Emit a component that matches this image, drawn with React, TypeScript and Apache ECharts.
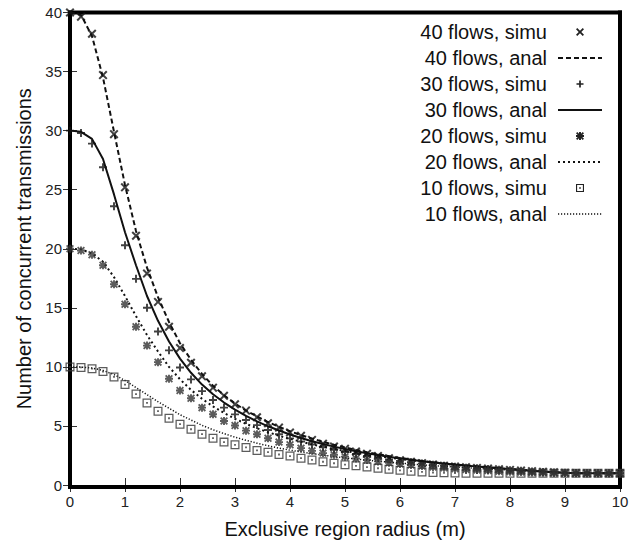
import React, { useEffect, useRef } from "react";
import * as echarts from "echarts";

const radius = [0, 0.2, 0.4, 0.6, 0.8, 1, 1.2, 1.4, 1.6, 1.8, 2, 2.2, 2.4, 2.6, 2.8, 3, 3.2, 3.4, 3.6, 3.8, 4, 4.2, 4.4, 4.6, 4.8, 5, 5.2, 5.4, 5.6, 5.8, 6, 6.2, 6.4, 6.6, 6.8, 7, 7.2, 7.4, 7.6, 7.8, 8, 8.2, 8.4, 8.6, 8.8, 9, 9.2, 9.4, 9.6, 9.8, 10];

const sim40 = [40, 39.65, 38.2, 34.7, 29.7, 25.2, 21.1, 17.9, 15.5, 13.4, 11.6, 10.35, 9.2, 8.24, 7.56, 6.83, 6.3, 5.73, 5.23, 4.86, 4.44, 4.16, 3.82, 3.5, 3.26, 3.06, 2.84, 2.64, 2.45, 2.27, 2.1, 1.97, 1.85, 1.74, 1.64, 1.57, 1.5, 1.44, 1.39, 1.33, 1.28, 1.22, 1.17, 1.12, 1.07, 1.03, 1.01, 1, 1, 1, 1];
const ana40 = [40, 39.8, 38.0, 34.5, 29.9, 25.4, 21.5, 18.4, 15.9, 13.8, 12.0, 10.6, 9.4, 8.4, 7.6, 6.9, 6.3, 5.8, 5.33, 4.92, 4.55, 4.22, 3.93, 3.66, 3.41, 3.18, 2.97, 2.78, 2.6, 2.44, 2.29, 2.16, 2.04, 1.93, 1.83, 1.74, 1.65, 1.57, 1.5, 1.43, 1.36, 1.29, 1.22, 1.15, 1.08, 1.03, 1, 1, 1, 1, 1];
const sim30 = [30, 29.8, 28.9, 26.9, 23.6, 20.3, 17.45, 15.0, 13.0, 11.4, 9.95, 8.94, 7.95, 7.2, 6.55, 5.98, 5.5, 5.07, 4.66, 4.29, 3.95, 3.68, 3.43, 3.2, 2.99, 2.8, 2.62, 2.46, 2.31, 2.17, 2.04, 1.92, 1.81, 1.71, 1.62, 1.54, 1.47, 1.41, 1.35, 1.3, 1.25, 1.2, 1.15, 1.11, 1.06, 1.03, 1.01, 1, 1, 1, 1];
const ana30 = [30, 29.9, 29.3, 27.6, 24.6, 21.4, 18.6, 16.0, 13.9, 12.15, 10.7, 9.5, 8.5, 7.68, 6.98, 6.38, 5.85, 5.38, 4.97, 4.61, 4.28, 3.98, 3.71, 3.47, 3.25, 3.05, 2.86, 2.69, 2.53, 2.39, 2.25, 2.13, 2.02, 1.91, 1.81, 1.72, 1.64, 1.56, 1.49, 1.42, 1.35, 1.28, 1.21, 1.14, 1.08, 1.03, 1, 1, 1, 1, 1];
const sim20 = [20, 19.85, 19.5, 18.6, 17.0, 15.3, 13.4, 11.8, 10.4, 9.0, 8.0, 7.34, 6.55, 5.99, 5.42, 5.03, 4.6, 4.3, 3.96, 3.63, 3.4, 3.12, 2.89, 2.7, 2.56, 2.4, 2.25, 2.12, 2.0, 1.88, 1.78, 1.69, 1.6, 1.52, 1.45, 1.38, 1.32, 1.27, 1.22, 1.17, 1.13, 1.09, 1.06, 1.04, 1.02, 1.01, 1, 1, 1, 1, 1];
const ana20 = [20, 19.95, 19.6, 18.9, 17.6, 16.0, 14.3, 12.7, 11.3, 10.0, 8.95, 8.05, 7.3, 6.65, 6.1, 5.6, 5.18, 4.8, 4.47, 4.17, 3.9, 3.66, 3.44, 3.24, 3.05, 2.88, 2.72, 2.57, 2.44, 2.31, 2.19, 2.08, 1.98, 1.88, 1.79, 1.7, 1.62, 1.54, 1.47, 1.4, 1.33, 1.27, 1.2, 1.14, 1.08, 1.03, 1, 1, 1, 1, 1];
const sim10 = [10, 9.95, 9.85, 9.6, 9.15, 8.5, 7.7, 6.95, 6.25, 5.65, 5.15, 4.72, 4.3, 3.96, 3.63, 3.4, 3.18, 2.93, 2.78, 2.58, 2.45, 2.27, 2.12, 1.97, 1.84, 1.72, 1.62, 1.52, 1.42, 1.33, 1.24, 1.17, 1.11, 1.06, 1.03, 1.01, 1, 1, 1, 1, 1, 1, 1, 1, 1, 1, 1, 1, 1, 1, 1];
const ana10 = [10, 9.98, 9.9, 9.7, 9.35, 8.85, 8.25, 7.65, 7.05, 6.5, 5.95, 5.5, 5.05, 4.68, 4.35, 4.05, 3.78, 3.54, 3.32, 3.12, 2.95, 2.8, 2.66, 2.53, 2.41, 2.3, 2.2, 2.1, 2.01, 1.93, 1.85, 1.78, 1.71, 1.64, 1.58, 1.52, 1.46, 1.41, 1.36, 1.31, 1.26, 1.21, 1.17, 1.12, 1.07, 1.03, 1, 1, 1, 1, 1];

const seriesNames = [
  "40 flows, simu", "40 flows, anal",
  "30 flows, simu", "30 flows, anal",
  "20 flows, simu", "20 flows, anal",
  "10 flows, simu", "10 flows, anal",
];
const xTicks = [0, 1, 2, 3, 4, 5, 6, 7, 8, 9, 10];
const yTicks = [0, 5, 10, 15, 20, 25, 30, 35, 40];

const P_X = "M0,1.6 L1.6,0 L5,3.4 L8.4,0 L10,1.6 L6.6,5 L10,8.4 L8.4,10 L5,6.6 L1.6,10 L0,8.4 L3.4,5 Z";
const P_PLUS = "M3.8,0 L6.2,0 L6.2,3.8 L10,3.8 L10,6.2 L6.2,6.2 L6.2,10 L3.8,10 L3.8,6.2 L0,6.2 L0,3.8 L3.8,3.8 Z";
const P_STAR = P_X + " " + P_PLUS;
const P_BOX = "M0,0 L10,0 L10,10 L0,10 Z M1.4,1.4 L1.4,8.6 L8.6,8.6 L8.6,1.4 Z M4,4 L6,4 L6,6 L4,6 Z";

const FONT = "'Liberation Sans', Arial, Helvetica, sans-serif";
const INK = "#111";

const GRID = { left: 70, right: 24, top: 12.5, bottom: 57 };
const W = 644;
const H = 544;

let registered = false;
function registerShapes() {
  if (registered) return;
  registered = true;
  echarts.graphic.registerShape("mkx", echarts.graphic.extendPath(P_X, {}));
  echarts.graphic.registerShape("mkplus", echarts.graphic.extendPath(P_PLUS, {}));
  echarts.graphic.registerShape("mkstar", echarts.graphic.extendPath(P_STAR, {}));
  echarts.graphic.registerShape("mkbox", echarts.graphic.extendPath(P_BOX, {}));
}

const pairs = (ys: number[]) => radius.map((x, i) => [x, ys[i]]);

export default function App() {
  const ref = useRef<HTMLDivElement>(null);
  useEffect(() => {
    document.body.style.margin = "0";
    registerShapes();
    const chart = echarts.init(ref.current!, null, { renderer: "svg" });

    const simSeries = (name: string, ys: number[], path: string, size: number, color: string) => ({
      name,
      type: "scatter",
      data: pairs(ys),
      symbol: "path://" + path,
      symbolSize: size,
      itemStyle: { color },
      z: 4,
      clip: false,
    });
    const anaSeries = (name: string, ys: number[], width: number, type: any) => ({
      name,
      type: "line",
      data: pairs(ys),
      symbol: "none",
      smooth: false,
      lineStyle: { color: INK, width, type },
      z: 3,
    });

    const legendRows = seriesNames.map((n, i) => 32 + 26 * i);
    const lgText = seriesNames.map((n, i) => ({
      type: "text",
      x: 547,
      y: legendRows[i],
      style: { text: n, fill: INK, font: `20px ${FONT}`, textAlign: "right", textVerticalAlign: "middle" },
    }));
    const lineSample = (y: number, width: number, dash: any) => ({
      type: "line",
      shape: { x1: 558, y1: y, x2: 602, y2: y },
      style: { stroke: INK, lineWidth: width, lineDash: dash },
    });
    const markSample = (type: string, y: number, size: number) => ({
      type,
      x: 580 - size / 2,
      y: y - size / 2,
      scaleX: size / 10,
      scaleY: size / 10,
      style: { fill: "#222" },
    });
    const L = GRID.left;
    const R = W - GRID.right;
    const T = GRID.top;
    const B = H - GRID.bottom;
    const FW = 4;
    const frameLine = (x1: number, y1: number, x2: number, y2: number) => ({
      type: "line",
      z: 1,
      silent: true,
      shape: { x1, y1, x2, y2 },
      style: { stroke: "#000", lineWidth: FW, lineCap: "square" },
    });

    const axisCommon = {
      type: "value",
      axisLine: { show: false },
      axisTick: { show: true, inside: true, length: 7, lineStyle: { color: "#333", width: 1 } },
      splitLine: { show: false },
    };

    chart.setOption({
      animation: false,
      backgroundColor: "#fff",
      grid: { ...GRID, show: false },
      xAxis: [
        {
          ...axisCommon,
          position: "bottom",
          min: xTicks[0],
          max: xTicks[xTicks.length - 1],
          interval: 1,
          axisLabel: { fontSize: 15, color: "#222", fontFamily: FONT, margin: 9 },
          name: "Exclusive region radius (m)",
          nameLocation: "middle",
          nameGap: 34,
          nameTextStyle: { fontSize: 20, color: INK, fontFamily: FONT },
        },
        {
          ...axisCommon,
          position: "top",
          min: xTicks[0],
          max: xTicks[xTicks.length - 1],
          interval: 1,
          axisLabel: { show: false },
        },
      ],
      yAxis: [
        {
          ...axisCommon,
          position: "left",
          min: yTicks[0],
          max: yTicks[yTicks.length - 1],
          interval: 5,
          axisLabel: { fontSize: 15, color: "#222", fontFamily: FONT, margin: 8 },
          name: "Number of concurrent transmissions",
          nameLocation: "middle",
          nameGap: 34,
          nameTextStyle: { fontSize: 20, color: INK, fontFamily: FONT },
        },
        {
          ...axisCommon,
          position: "right",
          min: yTicks[0],
          max: yTicks[yTicks.length - 1],
          interval: 5,
          axisLabel: { show: false },
        },
      ],
      series: [
        simSeries(seriesNames[0], sim40, P_X, 9, "#111"),
        anaSeries(seriesNames[1], ana40, 2, [5, 3]),
        simSeries(seriesNames[2], sim30, P_PLUS, 8, "#111"),
        anaSeries(seriesNames[3], ana30, 2, "solid"),
        simSeries(seriesNames[4], sim20, P_STAR, 8, "#333"),
        anaSeries(seriesNames[5], ana20, 2, [2, 3]),
        simSeries(seriesNames[6], sim10, P_BOX, 9, "#333"),
        anaSeries(seriesNames[7], ana10, 1.5, [1.2, 1.8]),
      ],
      graphic: [
        frameLine(L, T, R, T),
        frameLine(R, T, R, B),
        frameLine(R, B, L, B),
        frameLine(L, B, L, T),
        ...lgText,
        markSample("mkx", legendRows[0], 8),
        lineSample(legendRows[1], 2, [5, 3]),
        markSample("mkplus", legendRows[2], 7),
        lineSample(legendRows[3], 2, null),
        markSample("mkstar", legendRows[4], 8),
        lineSample(legendRows[5], 2, [2, 3]),
        markSample("mkbox", legendRows[6], 8),
        lineSample(legendRows[7], 1.5, [1.2, 1.8]),
      ],
    });
    return () => chart.dispose();
  }, []);
  return <div ref={ref} style={{ width: W, height: H }} />;
}
